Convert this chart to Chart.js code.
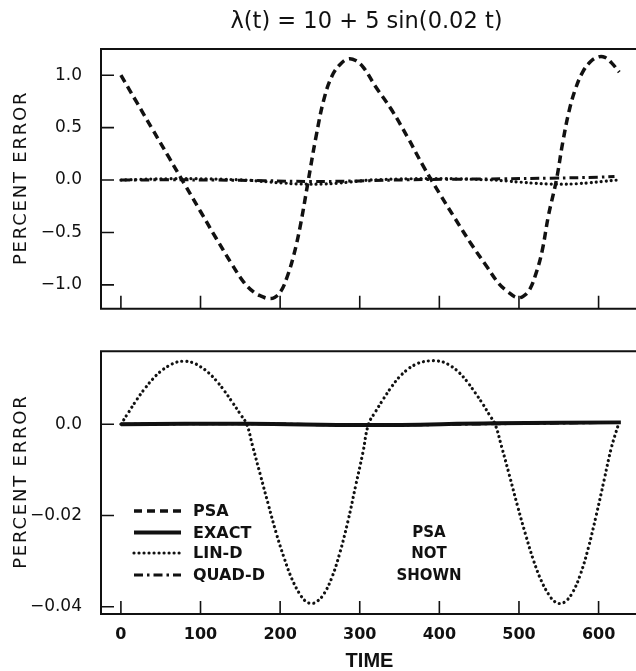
<!DOCTYPE html>
<html><head><meta charset="utf-8">
<script src="https://cdn.jsdelivr.net/npm/chart.js@4.4.0/dist/chart.umd.min.js"></script>
<style>
html,body{margin:0;padding:0;background:#fff;}
#wrap{position:relative;width:636px;height:671px;overflow:hidden;background:#fff;}
canvas{position:absolute;left:0;}
#c1{top:0;} #c2{top:330px;}
</style></head><body>
<div id="wrap"><canvas id="c1" width="636" height="330"></canvas><canvas id="c2" width="636" height="341"></canvas></div>
<script>
// ---- text ----
const titleText = 'λ(t) = 10 + 5 sin(0.02 t)';
const yTitle = 'PERCENT ERROR';
const xTitle = 'TIME';
const legendLabels = ['PSA', 'EXACT', 'LIN-D', 'QUAD-D'];
const noteLines = ['PSA', 'NOT', 'SHOWN'];

// ---- ticks ----
const xTicks = [0, 100, 200, 300, 400, 500, 600];
const xTickLabels = ['0', '100', '200', '300', '400', '500', '600'];
const topYTicks = [-1, -0.5, 0, 0.5, 1];
const topYTickLabels = ['\u22121.0', '\u22120.5', '0.0', '0.5', '1.0'];
const botYTicks = [-0.04, -0.02, 0];
const botYTickLabels = ['\u22120.04', '\u22120.02', '0.0'];

// ---- series ----
const psaT = [0,20,40,60,80,100,120,140,155,167,177,185,193,201,209,217,225,235,245,255,265,275,285,295,305,320,340,360,380,400,420,440,460,475,487,497,505,513,521,529,537,547,555,563,571,580,590,600,608,616,626];
const psaV = [1.00,0.74,0.48,0.22,-0.04,-0.30,-0.56,-0.81,-0.98,-1.07,-1.11,-1.13,-1.12,-1.06,-0.92,-0.72,-0.45,-0.02,0.41,0.77,0.99,1.10,1.155,1.14,1.07,0.89,0.67,0.41,0.13,-0.125,-0.37,-0.61,-0.83,-0.99,-1.07,-1.12,-1.11,-1.05,-0.90,-0.68,-0.34,0.00,0.36,0.66,0.87,1.03,1.13,1.175,1.17,1.12,1.03];

const linT = [0,10,20,30,40,50,60,70,79,90,100,110,120,130,140,150,158,
  165,175,185,195,205,215,225,232,239,246,255,265,275,285,295,304,311,
  320,330,340,350,360,370,380,390,396,405,415,425,435,445,455,463,470,
  478,488,498,508,518,528,538,545,551,558,567,577,587,597,607,616,625];
const linV = [0,0.0027,0.0054,0.0078,0.0099,0.0116,0.0128,0.0136,0.0138,0.0135,0.0126,0.0113,0.0095,0.0073,0.0048,0.0022,0,
  -0.0045,-0.0110,-0.0175,-0.0238,-0.0293,-0.0340,-0.0373,-0.0388,-0.0393,-0.0389,-0.0372,-0.0336,-0.0282,-0.0214,-0.0134,-0.0062,0,
  0.0028,0.0056,0.0082,0.0104,0.0120,0.0131,0.0137,0.0139,0.0139,0.0136,0.0127,0.0113,0.0093,0.0069,0.0043,0.0020,0,
  -0.0048,-0.0112,-0.0178,-0.0240,-0.0297,-0.0343,-0.0375,-0.0389,-0.0393,-0.0389,-0.0370,-0.0330,-0.0272,-0.0200,-0.0122,-0.0052,0];

const quadTopT = [0,60,120,180,240,300,360,420,480,540,600,620];
const quadTopV = [0,0.002,0,-0.006,-0.014,-0.008,0.002,0.008,0.012,0.018,0.028,0.035];
const quadBotT = [0,160,310,470,625];
const quadBotV = [0,0.0001,-0.0002,0.0001,0.0004];
const exactT = [0,160,310,470,628];
const exactV = [0,0.0001,-0.0002,0.0002,0.0004];

// ---- styles ----
const INK = '#111';
const FONT = '"DejaVu Sans", "Liberation Sans", sans-serif';
const HFONT = '"Liberation Sans", Arial, sans-serif';
const STY = {
  'PSA':    {dash: [8, 5], w: 3.5, cap: 'butt'},
  'EXACT':  {dash: [], w: 4, cap: 'butt'},
  'LIN-D':  {dash: [0.01, 5], w: 3.2, cap: 'round'},
  'QUAD-D': {dash: [9, 4, 2.5, 4], w: 3, cap: 'butt'}
};

function ds(label, T, V) {
  const s = STY[label];
  return {
    label, data: T.map((t, i) => ({x: t, y: V[i]})),
    borderColor: INK, borderWidth: s.w, borderDash: s.dash, borderCapStyle: s.cap,
    pointRadius: 0, fill: false, tension: 0.4
  };
}

const framePlugin = {
  id: 'frame',
  afterDatasetsDraw(chart) {
    const {ctx, chartArea: {left, top, right, bottom}, scales: {x, y}} = chart;
    ctx.save();
    ctx.strokeStyle = INK; ctx.lineWidth = 2; ctx.setLineDash([]);
    ctx.beginPath();
    ctx.moveTo(right + 4, top); ctx.lineTo(left, top); ctx.lineTo(left, bottom); ctx.lineTo(right + 4, bottom);
    ctx.stroke();
    ctx.lineWidth = 1.6;
    ctx.beginPath();
    x.ticks.forEach(t => { const px = x.getPixelForValue(t.value); ctx.moveTo(px, bottom); ctx.lineTo(px, bottom - 13); });
    y.ticks.forEach(t => { const py = y.getPixelForValue(t.value); ctx.moveTo(left, py); ctx.lineTo(left + 13, py); });
    ctx.stroke();
    ctx.restore();
  }
};

function drawYTitle(chart) {
  const {ctx, chartArea: {top, bottom}} = chart;
  ctx.save();
  ctx.translate(21, (top + bottom) / 2);
  ctx.rotate(-Math.PI / 2);
  ctx.font = '18px ' + FONT;
  ctx.fillStyle = INK;
  try { ctx.letterSpacing = '1.8px'; } catch (e) {}
  ctx.textAlign = 'center'; ctx.textBaseline = 'middle';
  ctx.fillText(yTitle, 1, 0);
  ctx.restore();
}

const topText = {
  id: 'topText',
  afterDraw(chart) {
    const {ctx, chartArea: {left, right}} = chart;
    ctx.save();
    ctx.font = '22.5px ' + FONT; ctx.fillStyle = INK;
    ctx.textAlign = 'center'; ctx.textBaseline = 'middle';
    ctx.fillText(titleText, (left + right) / 2 - 2, 22);
    ctx.restore();
    drawYTitle(chart);
  }
};

const botText = {
  id: 'botText',
  afterDraw(chart) {
    const {ctx, chartArea: {left, right}} = chart;
    drawYTitle(chart);
    ctx.save();
    ctx.fillStyle = INK; ctx.strokeStyle = INK;
    ctx.textBaseline = 'middle';
    // x title
    ctx.font = 'bold 20px ' + HFONT; ctx.textAlign = 'center';
    ctx.fillText(xTitle, (left + right) / 2 + 1, 331);
    // legend
    const rows = [181, 202.5, 223, 245];
    legendLabels.forEach((lab, i) => {
      const s = STY[lab];
      ctx.lineWidth = s.w; ctx.setLineDash(s.dash); ctx.lineCap = s.cap;
      ctx.beginPath(); ctx.moveTo(134, rows[i]); ctx.lineTo(181, rows[i]); ctx.stroke();
      ctx.setLineDash([]);
      ctx.font = 'bold 16px ' + FONT; ctx.textAlign = 'left';
      ctx.fillText(lab, 193, rows[i] + 1);
    });
    // note
    ctx.font = 'bold 15px ' + FONT; ctx.textAlign = 'center';
    noteLines.forEach((l, i) => ctx.fillText(l, 429, rows[i + 1] + 1));
    ctx.restore();
  }
};

function makeChart(id, datasets, yMin, yMax, yT, yL, showX, padTop, xH, extra) {
  return new Chart(document.getElementById(id), {
    type: 'line',
    data: {datasets},
    options: {
      responsive: false, animation: false, maintainAspectRatio: false,
      layout: {padding: {top: padTop, left: 0, right: 0, bottom: 0}},
      plugins: {legend: {display: false}, tooltip: {enabled: false}, title: {display: false}},
      scales: {
        x: {
          type: 'linear', min: -25, max: 647,
          afterBuildTicks: s => { s.ticks = xTicks.map(v => ({value: v})); },
          afterFit: s => { s.height = xH; },
          grid: {display: false}, border: {display: false},
          ticks: {display: showX, autoSkip: false, maxRotation: 0, padding: 3, z: 1, color: INK,
            font: {family: FONT, size: 16, weight: 'bold'},
            callback: v => xTickLabels[xTicks.indexOf(v)]}
        },
        y: {
          type: 'linear', min: yMin, max: yMax,
          afterBuildTicks: s => { s.ticks = yT.map(v => ({value: v})); },
          afterFit: s => { s.width = 101; },
          grid: {display: false}, border: {display: false},
          ticks: {padding: 11, z: 1, color: INK, font: {family: FONT, size: 17},
            callback: v => yL[yT.indexOf(v)]}
        }
      }
    },
    plugins: [framePlugin, extra]
  });
}

makeChart('c1', [
  ds('LIN-D', linT, linV),
  ds('QUAD-D', quadTopT, quadTopV),
  ds('PSA', psaT, psaV)
], -1.228, 1.25, topYTicks, topYTickLabels, false, 49, 17, topText);

makeChart('c2', [
  ds('LIN-D', linT, linV),
  ds('QUAD-D', quadBotT, quadBotV),
  ds('EXACT', exactT, exactV)
], -0.0416, 0.016, botYTicks, botYTickLabels, true, 21, 57, botText);
</script>
</body></html>
